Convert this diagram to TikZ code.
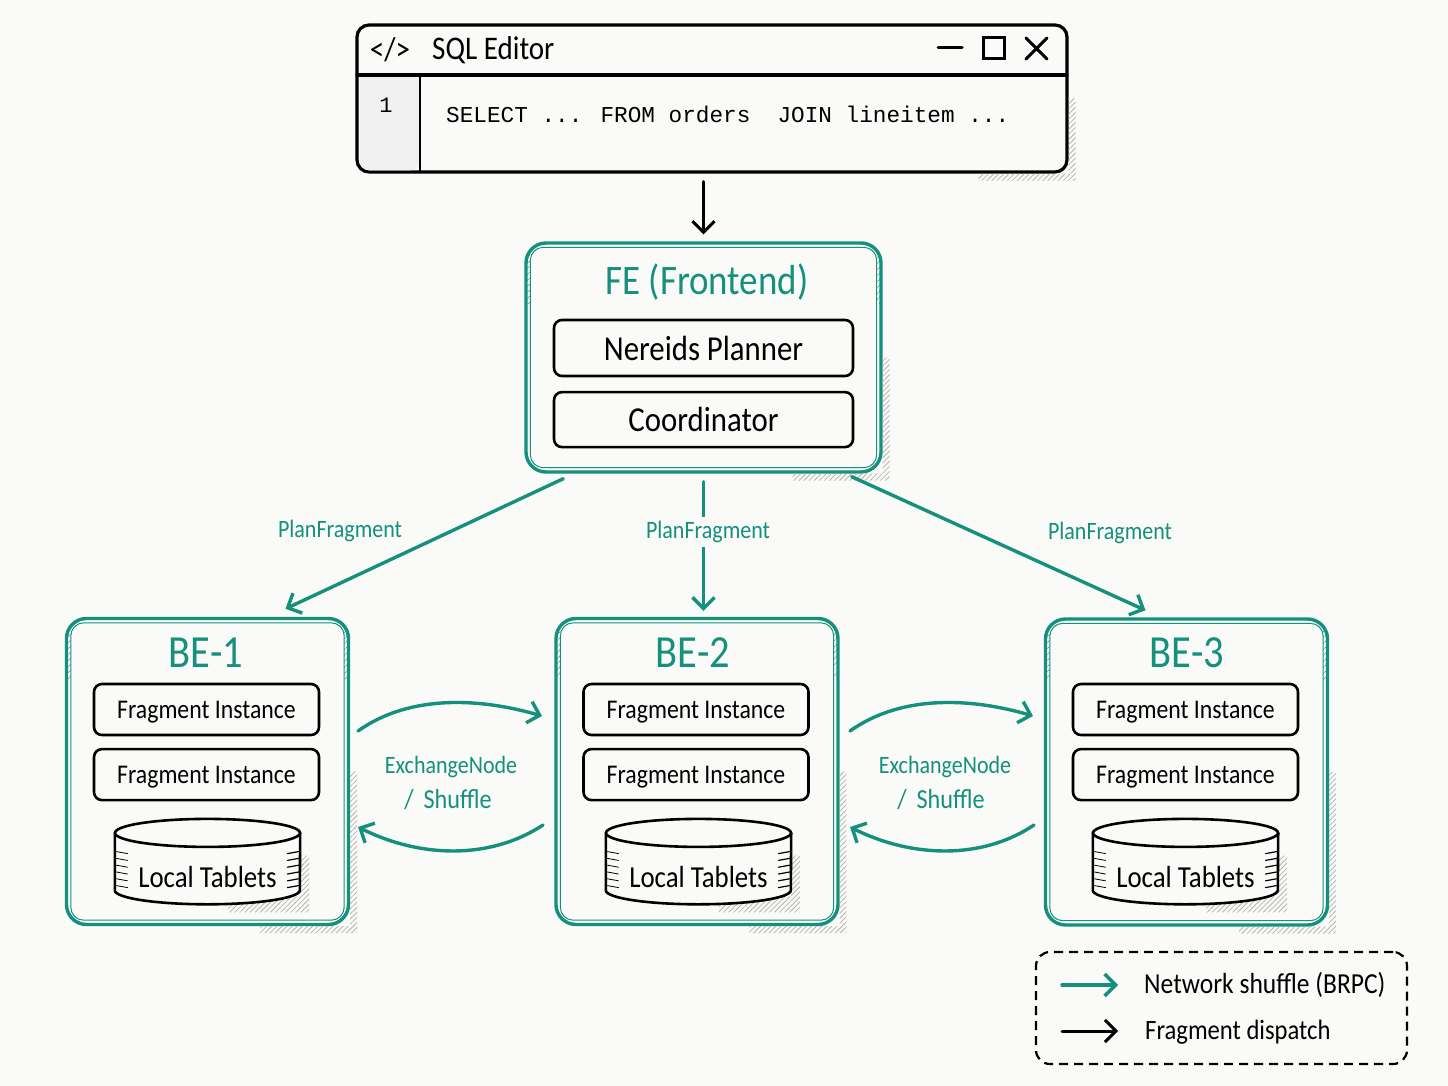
\documentclass[tikz,border=0pt]{standalone}
\usepackage{fontspec}
\usetikzlibrary{arrows.meta, positioning, calc, patterns.meta}
\setmainfont[FakeStretch=0.88]{Carlito}
\newfontfamily\codefont{Liberation Mono}
\definecolor{sketchteal}{HTML}{15907C}
\definecolor{paper}{HTML}{FAFAF8}
\definecolor{hatchgray}{HTML}{B4B4B0}
\newcommand{\fs}[1]{\fontsize{#1}{#1}\selectfont}

\begin{document}
\begin{tikzpicture}[x=1pt,y=-1pt,line cap=round,
		ink arrow/.style={-{Straight Barb[length=11pt,width=22pt]},line width=3pt,black},
		teal arrow/.style={-{Straight Barb[length=11pt,width=22pt]},line width=3.4pt,sketchteal},
		teal label/.style={text=sketchteal,font=\fs{25}},
		main box/.style={draw=sketchteal,line width=3.4pt,rounded corners=20pt,fill=paper,inner sep=0pt},
		inner line/.style={draw=sketchteal,line width=1pt,rounded corners=13pt},
		part box/.style={draw=black,line width=2.6pt,rounded corners=8pt,fill=paper,inner sep=0pt,text depth=0pt},
		tablet/.style={minimum width=185pt,minimum height=85pt,inner sep=0pt},
		tablet line/.style={draw=black,line width=2.6pt,fill=paper},
		hatch/.style={pattern={Lines[angle=45,distance=3.6pt,line width=.8pt]},pattern color=hatchgray},
		teal hatch/.style={pattern={Lines[angle=45,distance=4pt,line width=.6pt]},pattern color=sketchteal}]

	\fill[paper] (0,0) rectangle (1448,1086);

	% sql window
	\node[draw=black,line width=3.2pt,rounded corners=12pt,fill=paper,minimum width=710pt,minimum height=147pt,inner sep=0pt] (editor) at (712,98.5) {};
	\fill[black!6] (420,77) -- (359.5,77) {[rounded corners=10pt] -- (359.5,170.4) -- (420,170.4)} -- cycle;
	\draw[black,line width=1.2pt] (420,76) -- (420,171);
	\draw[black,line width=3.2pt,shorten >=1.6pt,shorten <=1.6pt] (editor.west |- 0,75) -- (editor.east |- 0,75);
	\node[font=\fs{33}] (icon) at (390,50) {</>};
	\node[font=\fs{33},anchor=west,inner sep=0pt] (title) at (432,50) {SQL Editor};
	\draw[line width=3pt] (938,48) -- (962,48);
	\draw[line width=3pt] (983,38) rectangle (1004,59);
	\draw[line width=3pt] (1026,38) -- (1047,59) (1047,38) -- (1026,59);
	\node[font=\fs{22}\codefont] (linenum) at (386,105) {1};
	\node[font=\fs{22.7}\codefont,anchor=west,inner sep=0pt] (query) at (446,114) {SELECT ... FROM orders\ \ JOIN lineitem ...};

	% frontend
	\node[main box,minimum width=355pt,minimum height=229pt] (fe) at (703.5,357.5) {};
	\node[text=sketchteal,font=\fs{42}] (fetitle) at (707,282) {FE (Frontend)};
	\node[part box,minimum width=299pt,minimum height=56pt,font=\fs{35}] (nereids) at (703.5,348) {Nereids Planner};
	\node[part box,minimum width=299pt,minimum height=55pt,font=\fs{35}] (coord) [below=13.5pt of nereids] {Coordinator};

	% backends
	\foreach \n/\x/\y/\tx/\cx/\t in {be1/207.5/771.5/206/1/BE-1,be2/697/771.5/693/2.5/BE-2,be3/1186.5/772/1187/0/BE-3}{
		\node[main box,minimum width=282pt,minimum height=306pt] (\n) at (\x,\y) {};
		\node[text=sketchteal,font=\fs{46}] (\n title) at (\tx,653) {\t};
		\node[part box,minimum width=225pt,minimum height=51pt,font=\fs{27}] (\n a) at (\x-1,709.5) {Fragment Instance};
		\node[part box,minimum width=225pt,minimum height=51pt,font=\fs{27}] (\n b) [below=11.5pt of \n a] {Fragment Instance};
		\node[tablet] (\n c) [below=17.5pt of \n b,xshift=\cx pt] {};
		\fill[hatch] ($(\n c.east)+(0,-6)$) -- ++(9,0) -- ($(\n c.south east)+(9,8)$) -- ($(\n c.south east)+(-72,8)$) -- ($(\n c.south east)+(-72,-8)$) -- ($(\n c.south east)+(0,-8)$) -- cycle;
		\draw[tablet line] ($(\n c.north west)+(0,14)$) -- ($(\n c.south west)+(0,-14)$) arc[start angle=180,end angle=360,x radius=92.5pt,y radius=14pt] -- ($(\n c.north east)+(0,14)$);
		\draw[tablet line] ($(\n c.north)+(0,14)$) ellipse[x radius=92.5pt,y radius=14pt];
		\node[font=\fs{30.5}] (\n t) at (\n c.center) [yshift=-15pt] {Local Tablets};
		\foreach \k in {0,...,5}{
			\draw[black,line width=.8pt] ($(\n c.center)+(-91,-10+\k*6.8)$) -- ++(11,2);
			\draw[black,line width=1.2pt] ($(\n c.center)+(91,-10+\k*6.8)$) -- ++(-11,2);
		}
	}

	% sketch hatching
	\foreach \n in {editor,fe,be1,be2,be3}{
		\fill[hatch] (\n.east) -- ++(7,0) -- ($(\n.south east)+(7,7)$) -- ($(\n.south east)+(-90,7)$) -- ($(\n.south east)+(-90,0)$) -- (\n.south east) -- cycle;
	}
	\foreach \n in {fe,be1,be2,be3}{
		\draw[inner line] ($(\n.north west)+(6,6)$) rectangle ($(\n.south east)+(-6,-6)$);
		\fill[teal hatch] ($(\n.north west)+(2,14)$) rectangle ($(\n.north west)+(6,62)$);
		\fill[teal hatch] ($(\n.north east)+(-6,14)$) rectangle ($(\n.north east)+(-2,62)$);
	}

	% connectors
	\draw[ink arrow] ([yshift=-8pt]editor.south -| fe.north) -- ([yshift=7pt]fe.north);
	\draw[teal arrow] ([shift={(39,5)}]fe.south west) -- ([shift={(78,-8)}]be1.north);
	\draw[teal arrow] ([yshift=-8pt]fe.south) -- ([yshift=6pt]fe.south |- be2.north);
	\draw[teal arrow] ([shift={(-31,3)}]fe.south east) -- ([shift={(-41,-7)}]be3.north);
	\node[teal label,fill=paper,inner sep=4pt] (pf2) at (708,532) {PlanFragment};
	\node[teal label] (pf1) at (340,531) {PlanFragment};
	\node[teal label] (pf3) at (1110,533) {PlanFragment};

	\draw[teal arrow] (358,731) .. controls (410,694) and (480,698) .. (542,716);
	\draw[teal arrow] (543,825) .. controls (490,860) and (420,858) .. (358,827);
	\draw[teal arrow] (850,731) .. controls (902,694) and (972,698) .. (1033,716);
	\draw[teal arrow] (1034,825) .. controls (982,860) and (912,858) .. (850,827);
	\node[teal label] (ex1) at (451,767) {ExchangeNode};
	\node[teal label,font=\fs{27.5}] (sh1) at (448,800) {/\hspace{10pt}Shuffle};
	\node[teal label] (ex2) at (945,767) {ExchangeNode};
	\node[teal label,font=\fs{27.5}] (sh2) at (941,800) {/\hspace{10pt}Shuffle};

	% legend
	\node[draw=black,line cap=butt,dash pattern=on 9pt off 6pt,line width=2.2pt,rounded corners=14pt,minimum width=371pt,minimum height=112pt,inner sep=0pt] (legend) at (1221.5,1008) {};
	\draw[teal arrow] (1062,985) -- (1118,985);
	\draw[ink arrow] (1062,1031) -- (1118,1031);
	\node[font=\fs{29},anchor=west,inner sep=0pt] (lg1) at (1144,985) {Network shuffle (BRPC)};
	\node[font=\fs{28},anchor=west,inner sep=0pt] (lg2) at (1145,1032) {Fragment dispatch};
\end{tikzpicture}
\end{document}
